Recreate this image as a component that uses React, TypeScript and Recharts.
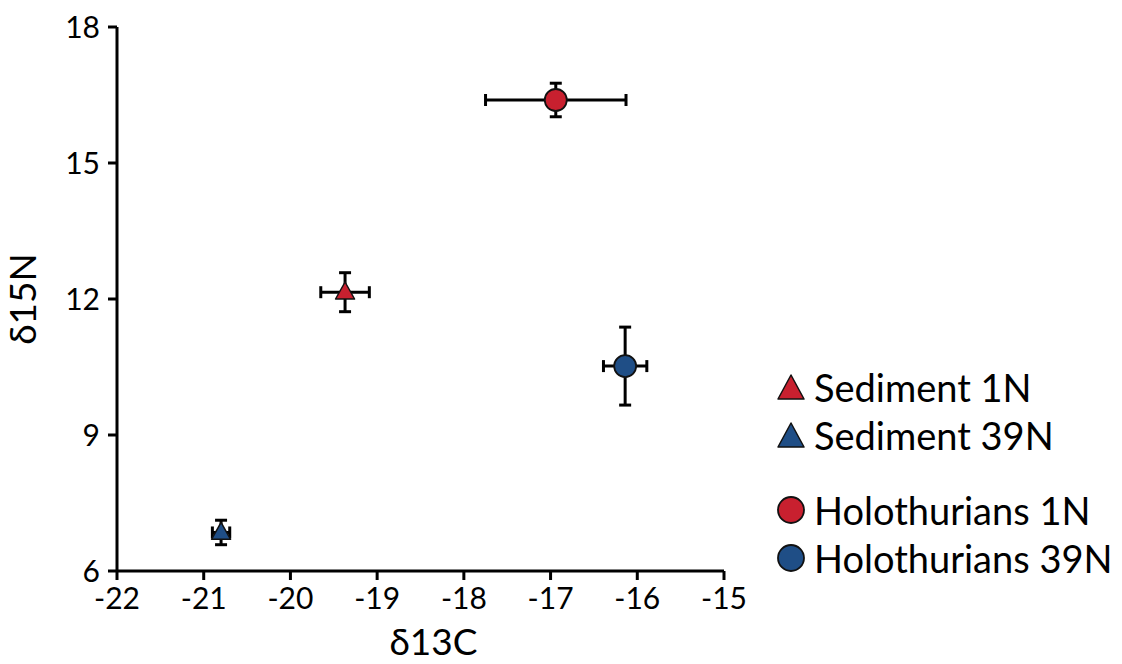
import React from "react";
import {
  ScatterChart,
  Scatter,
  XAxis,
  YAxis,
  ErrorBar,
} from "recharts";

// δ13C / δ15N means with standard deviations
const sediment1N = [{ x: -19.37, y: 12.15, ex: 0.28, ey: 0.43 }];
const sediment39N = [{ x: -20.8, y: 6.85, ex: 0.1, ey: 0.27 }];
const holothurians1N = [{ x: -16.94, y: 16.39, ex: 0.81, ey: 0.37 }];
const holothurians39N = [{ x: -16.14, y: 10.52, ex: 0.25, ey: 0.86 }];

const xTicks = [-22, -21, -20, -19, -18, -17, -16, -15];
const yTicks = [6, 9, 12, 15, 18];

const RED = "#c8202f";
const BLUE = "#1f4e86";
const FONT = "Lato, 'Open Sans', sans-serif";

const legendItems = [
  { name: "Sediment 1N", color: RED, shape: "triangle" },
  { name: "Sediment 39N", color: BLUE, shape: "triangle" },
  { name: "Holothurians 1N", color: RED, shape: "circle" },
  { name: "Holothurians 39N", color: BLUE, shape: "circle" },
];

const Triangle = (props: any) => {
  const { cx, cy, fill } = props;
  const h = 17;
  const w = 19;
  return (
    <polygon
      points={`${cx},${cy - h * 0.6} ${cx + w / 2},${cy + h * 0.4} ${cx - w / 2},${cy + h * 0.4}`}
      fill={fill}
      stroke="#111"
      strokeWidth={1.5}
      strokeLinejoin="round"
    />
  );
};

const Dot = (props: any) => {
  const { cx, cy, fill } = props;
  return <circle cx={cx} cy={cy} r={11} fill={fill} stroke="#111" strokeWidth={1.8} />;
};

const ChartLegend = () => (
  <div
    style={{
      position: "absolute",
      left: 776,
      top: 363,
      fontFamily: FONT,
      fontSize: 38,
      color: "#000",
      lineHeight: "48px",
      whiteSpace: "nowrap",
    }}
  >
    {legendItems.map((it, i) => (
      <div
        key={it.name}
        style={{ display: "flex", alignItems: "center", marginTop: i === 2 ? 27 : 0 }}
      >
        <svg width={30} height={30} style={{ marginRight: 8 }}>
          {it.shape === "triangle" ? (
            <polygon
              points="15,3 28,27 2,27"
              fill={it.color}
              stroke="#111"
              strokeWidth={1.5}
              strokeLinejoin="round"
            />
          ) : (
            <circle cx={15} cy={15} r={13} fill={it.color} stroke="#111" strokeWidth={1.8} />
          )}
        </svg>
        <span>{it.name}</span>
      </div>
    ))}
  </div>
);

export default function App() {
  return (
    <div style={{ position: "absolute", left: 0, top: 0, width: 1122, height: 664, background: "#fff" }}>
      <ScatterChart
        width={1122}
        height={664}
        margin={{ top: 27, right: 398, bottom: 33, left: 27 }}
      >
        <XAxis
          type="number"
          dataKey="x"
          domain={[-22, -15]}
          ticks={xTicks}
          interval={0}
          stroke="#000"
          strokeWidth={3}
          tickSize={9}
          tickMargin={8}
          height={60}
          fontSize={30}
          tick={{ fontSize: 30, fill: "#000", fontFamily: FONT }}
          label={{
            value: "δ13C",
            position: "insideBottom",
            offset: -24,
            dx: 13,
            style: { fontSize: 37, fill: "#000", fontFamily: FONT },
          }}
        />
        <YAxis
          type="number"
          dataKey="y"
          domain={[6, 18]}
          ticks={yTicks}
          interval={0}
          stroke="#000"
          strokeWidth={3}
          tickSize={9}
          tickMargin={8}
          width={90}
          fontSize={30}
          tick={{ fontSize: 30, fill: "#000", fontFamily: FONT }}
          label={{
            value: "δ15N",
            angle: -90,
            position: "insideLeft",
            offset: -4,
            style: { fontSize: 37, fill: "#000", fontFamily: FONT, textAnchor: "middle" },
          }}
        />
        <Scatter name="Sediment 1N" data={sediment1N} fill={RED} shape={Triangle} isAnimationActive={false}>
          <ErrorBar dataKey="ex" direction="x" width={6} stroke="#000" strokeWidth={3} />
          <ErrorBar dataKey="ey" direction="y" width={6} stroke="#000" strokeWidth={3} />
        </Scatter>
        <Scatter name="Sediment 39N" data={sediment39N} fill={BLUE} shape={Triangle} isAnimationActive={false}>
          <ErrorBar dataKey="ex" direction="x" width={6} stroke="#000" strokeWidth={3} />
          <ErrorBar dataKey="ey" direction="y" width={6} stroke="#000" strokeWidth={3} />
        </Scatter>
        <Scatter name="Holothurians 1N" data={holothurians1N} fill={RED} shape={Dot} isAnimationActive={false}>
          <ErrorBar dataKey="ex" direction="x" width={6} stroke="#000" strokeWidth={3} />
          <ErrorBar dataKey="ey" direction="y" width={6} stroke="#000" strokeWidth={3} />
        </Scatter>
        <Scatter name="Holothurians 39N" data={holothurians39N} fill={BLUE} shape={Dot} isAnimationActive={false}>
          <ErrorBar dataKey="ex" direction="x" width={6} stroke="#000" strokeWidth={3} />
          <ErrorBar dataKey="ey" direction="y" width={6} stroke="#000" strokeWidth={3} />
        </Scatter>
      </ScatterChart>
      <ChartLegend />
    </div>
  );
}
